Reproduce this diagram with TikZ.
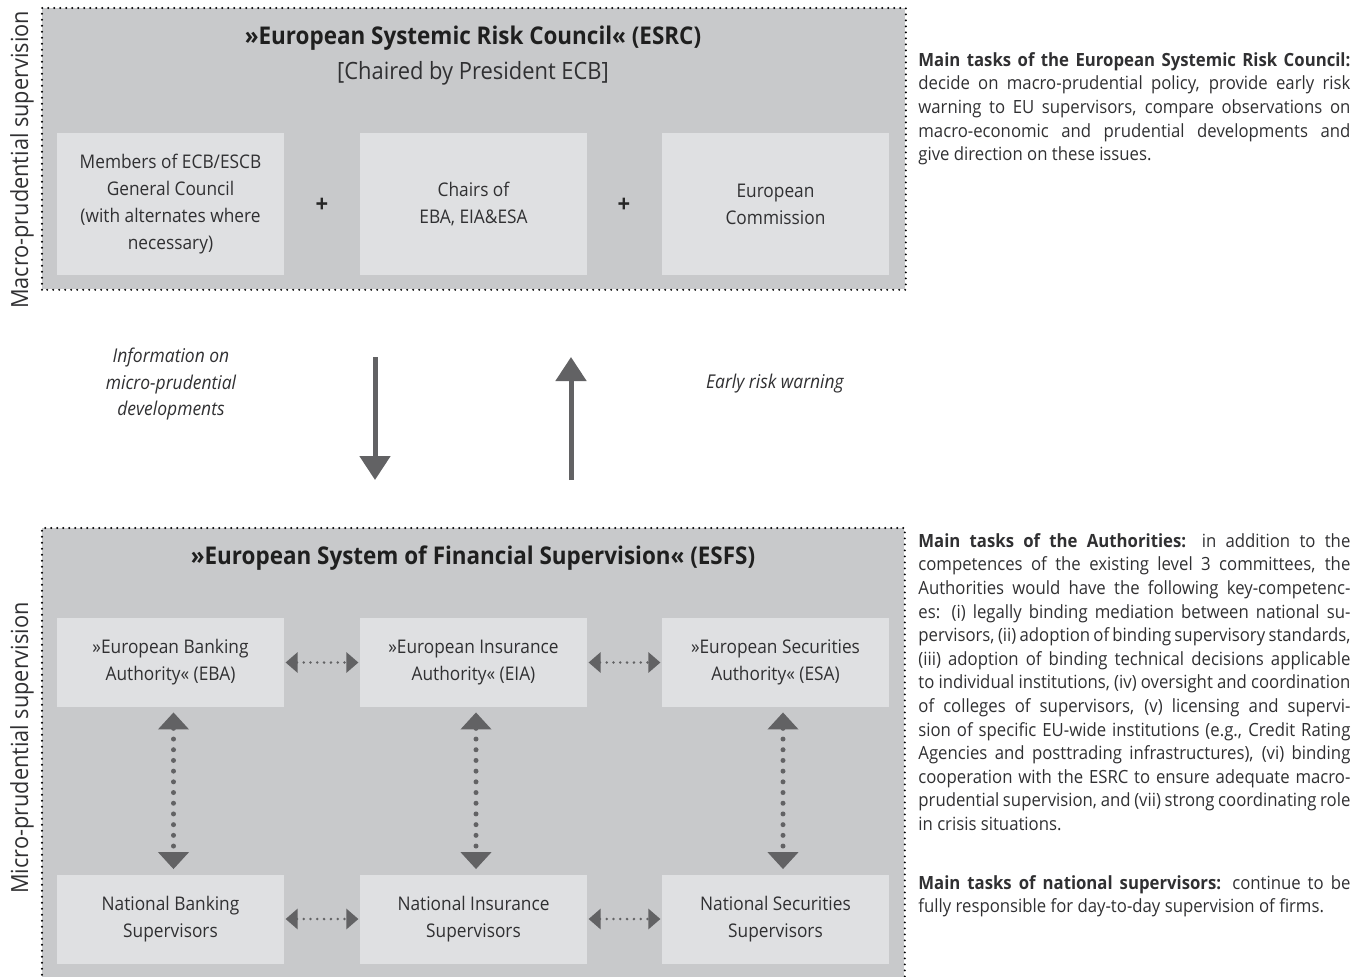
\documentclass[tikz,border=0pt]{standalone}
\usepackage{fontspec}
\setmainfont{Open Sans}[FakeStretch=0.92]
\usetikzlibrary{arrows.meta,positioning}

\definecolor{outergray}{RGB}{200,201,203}
\definecolor{innergray}{RGB}{223,224,226}
\definecolor{arrowgray}{RGB}{98,98,100}
\definecolor{textgray}{RGB}{48,48,50}

\tikzset{
    outerbox/.style = {fill=outergray, inner sep=0pt, anchor=north west},
    dotborder/.style = {black, line width=1.1pt, dash pattern=on 0pt off 3pt, line cap=round},
    memberbox/.style = {fill=innergray, minimum width=113.5pt, minimum height=71pt,
        inner sep=0pt, align=center, text=textgray, font=\fontsize{9.4}{13.5}\selectfont},
    authbox/.style = {memberbox, minimum height=44.5pt},
    titletext/.style = {font=\fontsize{12.2}{14}\selectfont\bfseries, text=black!88},
    plussign/.style = {font=\fontsize{12}{14}\selectfont\bfseries, text=black!85},
    flowtext/.style = {align=center, text=textgray, font=\fontsize{9.5}{13.3}\selectfont\itshape},
    sidelabel/.style = {rotate=90, text=textgray, font=\fontsize{11.8}{14}\selectfont},
    tasktext/.style = {anchor=north west, inner sep=0pt, text width=216pt, align=justify,
        text=textgray, font=\fontsize{9.1}{11.8}\selectfont},
    bigarrow/.style = {arrowgray, line width=2.5pt, -{Triangle[width=15pt,length=12pt]}},
    vlink/.style = {arrowgray, line width=2.5pt, dash pattern=on 0pt off 5.35pt, line cap=round,
        {Triangle[width=15pt,length=8.5pt]}-{Triangle[width=15pt,length=8.5pt]},
        shorten <=2.5pt, shorten >=2.5pt},
    hlink/.style = {arrowgray, line width=1.4pt, dash pattern=on 0pt off 3.4pt, line cap=round,
        {Triangle[width=10pt,length=6pt]}-{Triangle[width=10pt,length=6pt]},
        shorten <=0.6pt, shorten >=0.6pt}
}

\begin{document}
\begin{tikzpicture}[x=0.5pt, y=-0.5pt]
    \useasboundingbox (0,0) rectangle (1367,976);

    % macro-prudential level
    \node[outerbox, minimum width=431.5pt, minimum height=140.5pt] (esrc) at (42,8) {};
    \draw[dotborder] (esrc.south west) rectangle (esrc.north east);
    \node[titletext] (esrctitle) at (473,38) {»European Systemic Risk Council« (ESRC)};
    \node[text=textgray, font=\fontsize{11.9}{14}\selectfont] (chair) at (473,73) {[Chaired by President ECB]};

    \node[memberbox] (members) at (170.5,204) {Members of ECB/ESCB\\General Council\\(with alternates where\\necessary)};
    \node[memberbox] (chairs) at (473.5,204) {Chairs of\\EBA, EIA\&ESA};
    \node[memberbox] (commission) at (775.5,204) {European\\Commission};
    \node[plussign] (plusA) at (322,205) {+};
    \node[plussign] (plusB) at (624,205) {+};

    \node[sidelabel] (macro) at (22,160) {Macro-prudential supervision};

    % flows between the levels
    \coordinate (infotop) at (375,357);
    \coordinate (infobot) at (375,480);
    \coordinate (warnbot) at (571,480);
    \coordinate (warntop) at (571,357);
    \draw[bigarrow] (infotop) -- (infobot);
    \draw[bigarrow] (warnbot) -- (warntop);
    \node[flowtext] (info) at (171,384) {Information on\\micro-prudential\\developments};
    \node[flowtext] (warn) at (775,384) {Early risk warning};

    % micro-prudential level
    \node[outerbox, minimum width=431pt, minimum height=226pt] (esfs) at (42,528) {};
    \draw[dotborder] (esfs.south west) |- (esfs.north east) -- (esfs.south east);
    \node[titletext] (esfstitle) at (473,558) {»European System of Financial Supervision« (ESFS)};

    \node[authbox] (eba) at (170.5,662.5) {»European Banking\\Authority« (EBA)};
    \node[authbox] (eia) at (473.5,662.5) {»European Insurance\\Authority« (EIA)};
    \node[authbox] (esa) at (775.5,662.5) {»European Securities\\Authority« (ESA)};
    \node[authbox] (nbs) at (170.5,919) {National Banking\\Supervisors};
    \node[authbox] (nis) at (473.5,919) {National Insurance\\Supervisors};
    \node[authbox] (nss) at (775.5,919) {National Securities\\Supervisors};

    \draw[hlink] (eba) -- (eia);
    \draw[hlink] (eia) -- (esa);
    \draw[hlink] (nbs) -- (nis);
    \draw[hlink] (nis) -- (nss);
    \draw[vlink] ([xshift=1.5pt]eba.south) -- ([xshift=1.5pt]nbs.north);
    \draw[vlink] ([xshift=1.25pt]eia.south) -- ([xshift=1.25pt]nis.north);
    \draw[vlink] ([xshift=3.75pt]esa.south) -- ([xshift=3.75pt]nss.north);

    \node[sidelabel] (micro) at (22,748) {Micro-prudential supervision};

    % task descriptions
    \node[tasktext] (esrctasks) at (918,52) {\textbf{Main tasks of the European Systemic Risk Council:}\linebreak
        decide on macro-prudential policy, provide early risk\linebreak
        warning to EU supervisors, compare observations on\linebreak
        macro-economic and prudential developments and\linebreak
        give direction on these issues.};
    \node[tasktext] (authtasks) at (918,533) {\textbf{Main tasks of the Authorities:} in addition to the\linebreak
        competences of the existing level 3 committees, the\linebreak
        Authorities would have the following key-competenc-\linebreak
        es: (i) legally binding mediation between national su-\linebreak
        pervisors, (ii) adoption of binding supervisory standards,\linebreak
        (iii) adoption of binding technical decisions applicable\linebreak
        to individual institutions, (iv) oversight and coordination\linebreak
        of colleges of supervisors, (v) licensing and supervi-\linebreak
        sion of specific EU-wide institutions (e.g., Credit Rating\linebreak
        Agencies and posttrading infrastructures), (vi) binding\linebreak
        cooperation with the ESRC to ensure adequate macro-\linebreak
        prudential supervision, and (vii) strong coordinating role\linebreak
        in crisis situations.};
    \node[tasktext] (nattasks) at (918,875) {\textbf{Main tasks of national supervisors:} continue to be\linebreak
        fully responsible for day-to-day supervision of firms.};
\end{tikzpicture}
\end{document}
